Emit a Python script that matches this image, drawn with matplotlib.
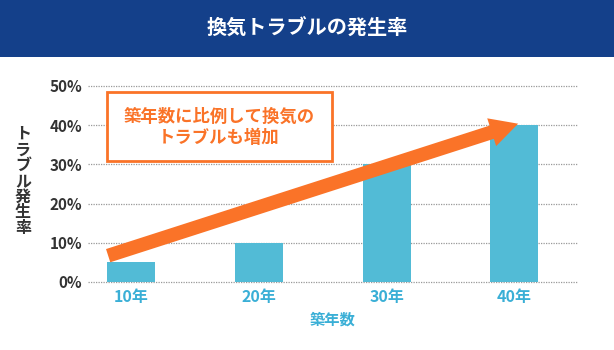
import matplotlib
matplotlib.use("Agg")
import matplotlib.pyplot as plt
from matplotlib.patches import Rectangle, FancyArrowPatch
from matplotlib.ticker import PercentFormatter

plt.rcParams["font.family"] = ["Noto Sans CJK JP", "DejaVu Sans"]

# data
categories = ["10年", "20年", "30年", "40年"]
rates = [0.05, 0.10, 0.30, 0.40]
y_ticks = [0, 0.1, 0.2, 0.3, 0.4, 0.5]

title = "換気トラブルの発生率"
note = "築年数に比例して換気の\nトラブルも増加"
x_label = "築年数"
y_label = "トラブル発生率"

navy = "#14408a"
bar_blue = "#52bbd6"
text_blue = "#3aafd6"
orange = "#fa7328"
dark = "#333333"

fig = plt.figure(figsize=(6.14, 3.5), dpi=100)
fig.patch.set_facecolor("white")

# header band
fig.patches.append(Rectangle((0, 1 - 57 / 350), 1, 57 / 350, transform=fig.transFigure,
                             facecolor=navy, edgecolor="none", zorder=0))
fig.text(0.5, 1 - 28 / 350, title, color="white", fontsize=14.5, fontweight="bold",
         ha="center", va="center")

ax = fig.add_axes([88 / 614, (350 - 282) / 350, (577 - 88) / 614, (282 - 86) / 350])
x = list(range(len(categories)))
ax.bar(x, rates, width=0.375, color=bar_blue, zorder=2)

ax.set_xlim(-0.337, 3.49)
ax.set_ylim(0, 0.5)
ax.set_yticks(y_ticks)
ax.yaxis.set_major_formatter(PercentFormatter(1.0, decimals=0))
ax.set_xticks(x)
ax.set_xticklabels(categories)
ax.grid(axis="y", linestyle=(0, (1, 1)), color="#999999", linewidth=0.9, zorder=1)
for gl in ax.get_ygridlines():
    gl.set_clip_on(False)
for s in ax.spines.values():
    s.set_visible(False)
ax.tick_params(axis="both", length=0)
ax.tick_params(axis="y", pad=4, labelsize=11, labelcolor=dark)
ax.tick_params(axis="x", pad=5, labelsize=11.5, labelcolor=text_blue)
for lbl in ax.get_yticklabels():
    lbl.set_fontweight("bold")
for lbl in ax.get_xticklabels():
    lbl.set_fontweight("bold")

ax.set_xlabel(x_label, color=text_blue, fontsize=11, fontweight="bold", labelpad=5)

# vertical y label, upright characters
fig.text(23 / 614, 1 - 181 / 350, "\n".join(y_label), color=dark, fontsize=11.5,
         fontweight="bold", ha="center", va="center", linespacing=0.98)

# trend arrow
arrow = FancyArrowPatch((-0.2, 0.065), (3.05, 0.406),
                        arrowstyle="simple,head_width=2.1,head_length=2.0,tail_width=1.0",
                        mutation_scale=10, color=orange, linewidth=0, zorder=4,
                        clip_on=False)
ax.add_patch(arrow)

# note box
fig.patches.append(Rectangle((107 / 614, 1 - 161 / 350), (332 - 107) / 614, 69 / 350,
                             transform=fig.transFigure, facecolor="white",
                             edgecolor=orange, linewidth=2, zorder=5))
fig.text(219 / 614, 1 - 127 / 350, note, color=orange, fontsize=12.5, fontweight="bold",
         ha="center", va="center", linespacing=1.25, zorder=6)

fig.savefig("out.png", dpi=100)
